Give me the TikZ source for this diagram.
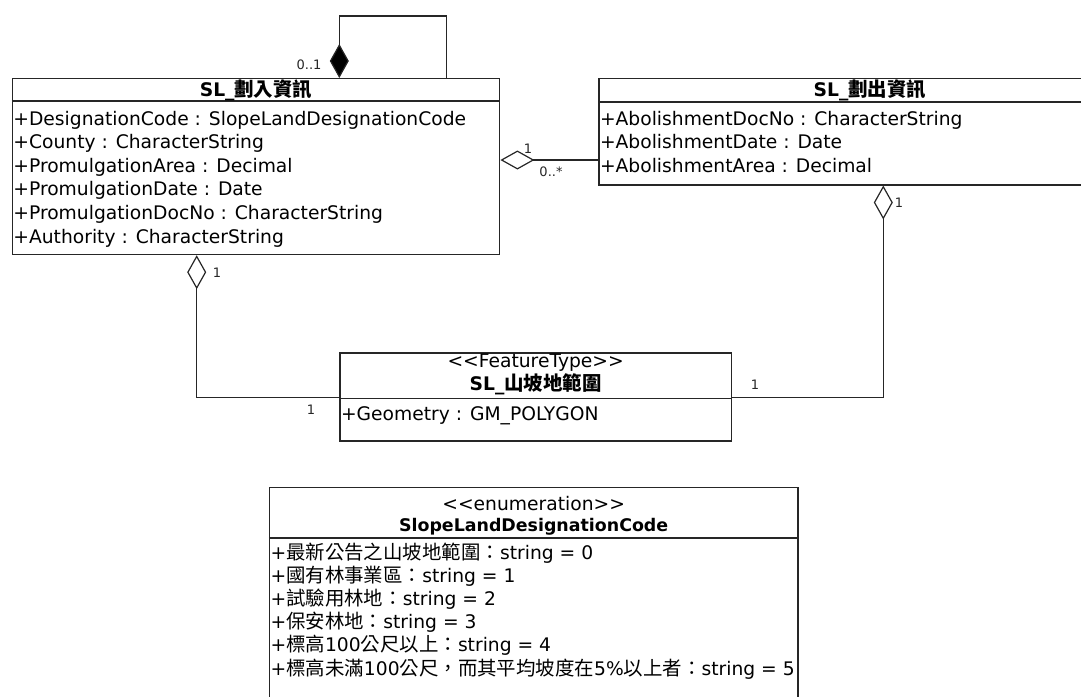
\documentclass[tikz,border=0pt]{standalone}
\usepackage{fontspec}
\setmainfont{DejaVu Sans}
\newfontfamily\cjk[Scale=1.04]{Noto Sans CJK TC}
\newcommand\zh[1]{{\cjk #1}}
\usetikzlibrary{arrows.meta,calc}
\begin{document}
\begin{tikzpicture}[x=1pt,y=-1pt,
  box/.style={draw=black!85, line width=1.2pt, inner sep=0pt, anchor=north west},
  sep/.style={draw=black!85, line width=1.2pt},
  txt/.style={anchor=base west, inner sep=0pt, font=\fontsize{18.7}{22}\selectfont},
  ttl/.style={anchor=base, inner sep=0pt, font=\fontsize{18.7}{22}\selectfont},
  lbl/.style={inner sep=0pt, font=\fontsize{13}{15}\selectfont, text=black!85},
  conn/.style={draw=black!85, line width=1.2pt},
  agg/.style={conn, {Diamond[open,length=34pt,width=19pt]}-},
  comp/.style={conn, {Diamond[fill=black,length=34pt,width=19pt]}-},
]
\useasboundingbox (0,0) rectangle (1081,696);
\clip (0,0) rectangle (1081,696);

% ---------- SL_劃入資訊 ----------
\node[box, minimum width=487.5pt, minimum height=176pt] (in) at (11.7,78) {};
\draw[sep] ($(in.north west)+(0,23)$) -- ($(in.north east)+(0,23)$);
\node[ttl] (inT) at ($(in.north)+(0,18.5)$) {\bfseries SL\_\zh{劃入資訊}};
\node[txt] (in1) at ($(in.north west)+(1.5,47)$) {+DesignationCode : SlopeLandDesignationCode};
\node[txt] (in2) at ($(in.north west)+(1.5,70.6)$) {+County : CharacterString};
\node[txt] (in3) at ($(in.north west)+(1.5,94.2)$) {+PromulgationArea : Decimal};
\node[txt] (in4) at ($(in.north west)+(1.5,117.8)$) {+PromulgationDate : Date};
\node[txt] (in5) at ($(in.north west)+(1.5,141.4)$) {+PromulgationDocNo : CharacterString};
\node[txt] (in6) at ($(in.north west)+(1.5,165)$) {+Authority : CharacterString};

% ---------- SL_劃出資訊 ----------
\node[box, minimum width=542pt, minimum height=106.3pt] (out) at (598.3,78) {};
\draw[sep] ($(out.north west)+(0,24)$) -- ($(out.north east)+(0,24)$);
\node[ttl] (outT) at ($(out.north)+(0,18.5)$) {\bfseries SL\_\zh{劃出資訊}};
\node[txt] (out1) at ($(out.north west)+(1.5,47)$) {+AbolishmentDocNo : CharacterString};
\node[txt] (out2) at ($(out.north west)+(1.5,70.6)$) {+AbolishmentDate : Date};
\node[txt] (out3) at ($(out.north west)+(1.5,94.2)$) {+AbolishmentArea : Decimal};

% ---------- SL_山坡地範圍 ----------
\node[box, minimum width=391.5pt, minimum height=88pt] (mid) at (339.3,352.3) {};
\draw[sep] ($(mid.north west)+(0,46)$) -- ($(mid.north east)+(0,46)$);
\node[ttl] (midS) at ($(mid.north)+(0,15.5)$) {{<}{<}FeatureType{>}{>}};
\node[ttl] (midT) at ($(mid.north)+(0,38)$) {\bfseries SL\_\zh{山坡地範圍}};
\node[txt] (mid1) at ($(mid.north west)+(1.5,68)$) {+Geometry : GM\_POLYGON};

% ---------- SlopeLandDesignationCode ----------
\node[box, minimum width=528.5pt, minimum height=240pt] (enum) at (268.8,487) {};
\draw[sep] ($(enum.north west)+(0,51)$) -- ($(enum.north east)+(0,51)$);
\node[ttl] (enS) at ($(enum.north)+(0,23)$) {{<}{<}enumeration{>}{>}};
\node[ttl, font=\fontsize{17.4}{22}\selectfont] (enT) at ($(enum.north)+(0,44)$) {\bfseries SlopeLandDesignationCode};
\node[txt] (en1) at ($(enum.north west)+(1.5,72)$) {+\zh{最新公告之山坡地範圍：}string = 0};
\node[txt] (en2) at ($(enum.north west)+(1.5,95.2)$) {+\zh{國有林事業區：}string = 1};
\node[txt] (en3) at ($(enum.north west)+(1.5,118.4)$) {+\zh{試驗用林地：}string = 2};
\node[txt] (en4) at ($(enum.north west)+(1.5,141.6)$) {+\zh{保安林地：}string = 3};
\node[txt] (en5) at ($(enum.north west)+(1.5,164.8)$) {+\zh{標高}100\zh{公尺以上：}string = 4};
\node[txt] (en6) at ($(enum.north west)+(1.5,188)$) {+\zh{標高未滿}100\zh{公尺，而其平均坡度在}5\%\zh{以上者：}string = 5};

% ---------- connectors ----------
\draw[comp] ($(in.north west)+(327.6,0)$) -- ++(0,-62) -| ($(in.north west)+(435,0)$);
\draw[agg] ($(in.north east)+(0,82)$) -- ($(out.north west)+(0,82)$);
\draw[agg] ($(in.south west)+(185,0)$) |- ($(mid.north west)+(0,45)$);
\draw[agg] ($(out.south west)+(285,0)$) |- ($(mid.north east)+(0,45)$);

% ---------- multiplicities ----------
\node[lbl] (m01) at (309,65) {0..1};
\node[lbl] (mA1) at (528,149) {1};
\node[lbl] (mA2) at (551,172) {0..*};
\node[lbl] (mB1) at (217,273) {1};
\node[lbl] (mB2) at (311,410) {1};
\node[lbl] (mC1) at (899,203) {1};
\node[lbl] (mC2) at (755,385) {1};
\end{tikzpicture}
\end{document}
